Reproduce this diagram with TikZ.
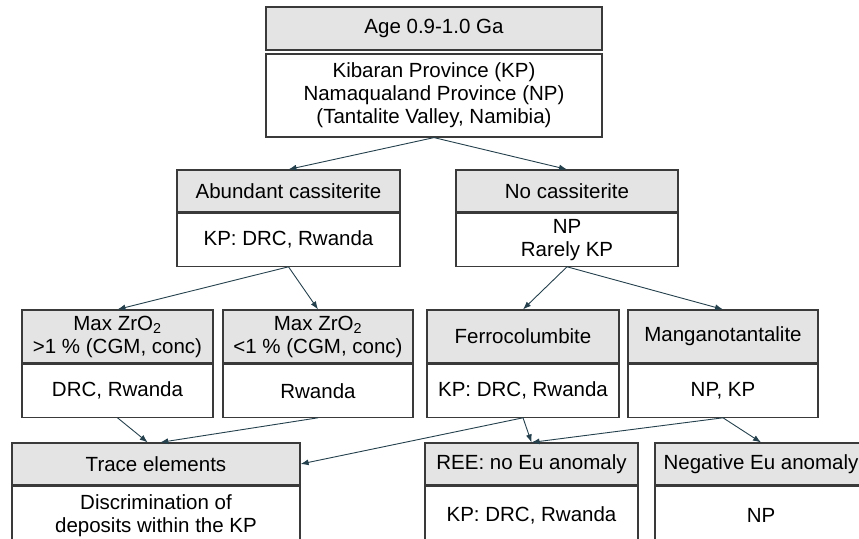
\documentclass[tikz,border=0pt]{standalone}
\usepackage{fontspec}
\setmainfont{Liberation Sans}
\usetikzlibrary{arrows.meta}
\definecolor{headgray}{HTML}{E4E4E4}
\definecolor{boxline}{HTML}{3A3A3A}
\definecolor{linkcol}{HTML}{24404C}

\begin{document}
\begin{tikzpicture}[x=1pt, y=-1pt, font=\fontsize{20.5}{23}\selectfont,
	box/.style={draw=boxline, line width=1.2pt, rectangle, align=center, inner sep=0pt},
	head/.style={box, fill=headgray, minimum height=42pt},
	body/.style={box, fill=white},
	link/.style={draw=linkcol, line width=0.9pt, -{Latex[length=8pt,width=6pt]}}
	]

\useasboundingbox (0,0) rectangle (859,538);
\clip (0,0) rectangle (859,538);

\node[head, minimum width=336pt, minimum height=43pt] (age) at (434,28.5) {Age 0.9-1.0 Ga};
\node[body, minimum width=336pt, minimum height=83pt] (prov) at (434,95.5)
    {Kibaran Province (KP)\\Namaqualand Province (NP)\\(Tantalite Valley, Namibia)};

% second row
\node[head, minimum width=223pt] (abundhd) at (288.5,191) {Abundant cassiterite};
\node[body, minimum width=223pt, minimum height=53pt, anchor=north] (abundbd) at (abundhd.south) {KP: DRC, Rwanda};
\node[head, minimum width=222pt] (nocashd) at (567,191) {No cassiterite};
\node[body, minimum width=222pt, minimum height=53pt, anchor=north] (nocasbd) at (nocashd.south) {NP\\Rarely KP};

% third row
\node[head, minimum width=191pt, minimum height=53pt] (zrhihd) at (117.5,336.5) {Max ZrO\textsubscript{2}\\>1 \% (CGM, conc)};
\node[body, minimum width=191pt, minimum height=53pt, anchor=north] (zrhibd) at (zrhihd.south) {DRC, Rwanda};
\node[head, minimum width=190pt, minimum height=53pt] (zrlohd) at (318,336.5) {Max ZrO\textsubscript{2}\\<1 \% (CGM, conc)};
\node[body, minimum width=190pt, minimum height=53pt, anchor=north] (zrlobd) at (zrlohd.south) {Rwanda};
\node[head, minimum width=192pt, minimum height=53pt] (ferrohd) at (523,336.5) {Ferrocolumbite};
\node[body, minimum width=192pt, minimum height=53pt, anchor=north] (ferrobd) at (ferrohd.south) {KP: DRC, Rwanda};
\node[head, minimum width=190pt, minimum height=53pt] (manganohd) at (723,336.5) {Manganotantalite};
\node[body, minimum width=190pt, minimum height=53pt, anchor=north] (manganobd) at (manganohd.south) {NP, KP};

% last row
\node[head, minimum width=288pt] (tracehd) at (156,464) {Trace elements};
\node[body, minimum width=288pt, minimum height=58pt, anchor=north] (tracebd) at (tracehd.south) {Discrimination of\\deposits within the KP};
\node[head, minimum width=213pt] (reehd) at (531.5,464) {REE: no Eu anomaly};
\node[body, minimum width=213pt, minimum height=58pt, anchor=north] (reebd) at (reehd.south) {KP: DRC, Rwanda};
\node[head, minimum width=212pt] (negeuhd) at (761,464) {Negative Eu anomaly};
\node[body, minimum width=212pt, minimum height=58pt, anchor=north] (negeubd) at (negeuhd.south) {NP};

\draw[link] (prov.south) -- (abundhd.north);
\draw[link] (prov.south) -- (nocashd.north);
\draw[link] (abundbd.south) -- (zrhihd.north);
\draw[link] (abundbd.south) -- (zrlohd.north);
\draw[link] (nocasbd.south) -- (ferrohd.north);
\draw[link] (nocasbd.south) -- (manganohd.north);
\draw[link] (zrhibd.south) -- (tracehd.111);
\draw[link] (zrlobd.south) -- (tracehd.79);
\draw[link] (ferrobd.south) -- (tracehd.east);
\draw[link] (ferrobd.south) -- (reehd.north);
\draw[link] (manganobd.south) -- (reehd.north);
\draw[link] (manganobd.south) -- (negeuhd.north);

\end{tikzpicture}
\end{document}
